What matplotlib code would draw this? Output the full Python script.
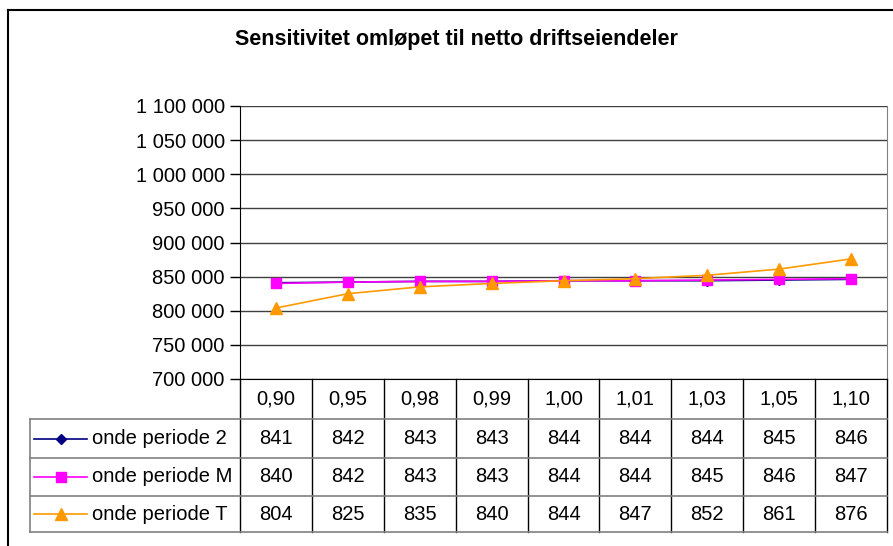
import numpy as np
import matplotlib

matplotlib.use("Agg")
import matplotlib.pyplot as plt
from matplotlib.ticker import FuncFormatter

plt.rcParams["font.family"] = ["Liberation Sans", "DejaVu Sans"]

TITLE = "Sensitivitet omløpet til netto driftseiendeler"
categories = ["0,90", "0,95", "0,98", "0,99", "1,00", "1,01", "1,03", "1,05", "1,10"]
series_names = ["onde periode 2", "onde periode M", "onde periode T"]
periode_2 = [841, 842, 843, 843, 844, 844, 844, 845, 846]
periode_m = [840, 842, 843, 843, 844, 844, 845, 846, 847]
periode_t = [804, 825, 835, 840, 844, 847, 852, 861, 876]
y_ticks = [700000, 750000, 800000, 850000, 900000, 950000, 1000000, 1050000, 1100000]

colors = ["#000080", "#ff00ff", "#ff9900"]
markers = ["D", "s", "^"]
msizes = [5.5, 7.5, 9.0]

W, H = 893, 546
PLOT_L, PLOT_R, PLOT_T, PLOT_B = 240, 887, 106, 379
ROW_Y = [379, 419, 458, 496, 532]
TABLE_L = 30
FS = 14.5

fig = plt.figure(figsize=(W / 100, H / 100), dpi=100)

# pixel overlay for frame and data table
over = fig.add_axes([0, 0, 1, 1])
over.set_xlim(0, W)
over.set_ylim(H, 0)
over.axis("off")

ax = fig.add_axes([PLOT_L / W, 1 - PLOT_B / H, (PLOT_R - PLOT_L) / W, (PLOT_B - PLOT_T) / H])
x = np.arange(len(categories))
values = [periode_2, periode_m, periode_t]
for vals, name, c, m, ms in zip(values, series_names, colors, markers, msizes):
    ax.plot(x, np.array(vals) * 1000, color=c, marker=m, markersize=ms,
            markeredgecolor=c, linewidth=1.2, label=name, clip_on=False, zorder=3)

ax.set_xlim(-0.5, len(categories) - 0.5)
ax.set_ylim(y_ticks[0], y_ticks[-1])
ax.set_yticks(y_ticks)
ax.yaxis.set_major_formatter(FuncFormatter(lambda v, _: f"{int(v):,}".replace(",", " ")))
ax.tick_params(axis="y", length=7, width=1, color="#000000", labelsize=FS, pad=4)
ax.set_xticks([])
ax.grid(axis="y", color="#404040", linewidth=1)
ax.set_axisbelow(True)
ax.spines["top"].set_visible(False)
ax.spines["right"].set_color("#808080")
ax.spines["left"].set_color("#000000")
ax.spines["bottom"].set_color("#000000")
ax.patch.set_alpha(0)

# outer chart frame
over.plot([7.5, 7.5], [H, 9.5], color="#000000", linewidth=1.5)
over.plot([7.5, W], [9.5, 9.5], color="#000000", linewidth=1.5)

over.text(456, 40, TITLE, ha="center", va="center", fontsize=15.5, fontweight="bold")

# data table
col_w = (PLOT_R - PLOT_L) / len(categories)
for i in range(len(categories) + 1):
    xx = PLOT_L + i * col_w
    over.plot([xx, xx], [ROW_Y[0], ROW_Y[-1]], color="#000000", linewidth=1)
for yy in ROW_Y[1:]:
    over.plot([TABLE_L, PLOT_R], [yy, yy], color="#808080", linewidth=1.2)
over.plot([TABLE_L, TABLE_L], [ROW_Y[1], ROW_Y[-1]], color="#808080", linewidth=1.2)

for i, lab in enumerate(categories):
    cx = PLOT_L + (i + 0.5) * col_w
    over.text(cx, (ROW_Y[0] + ROW_Y[1]) / 2, lab, ha="center", va="center", fontsize=FS)

for r, (vals, name, c, m, ms) in enumerate(zip(values, series_names, colors, markers, msizes)):
    cy = (ROW_Y[r + 1] + ROW_Y[r + 2]) / 2
    over.plot([34, 87], [cy, cy], color=c, linewidth=1.2)
    over.plot([60.5], [cy], color=c, marker=m, markersize=ms, markeredgecolor=c)
    over.text(92, cy, name, ha="left", va="center", fontsize=FS)
    for i, v in enumerate(vals):
        cx = PLOT_L + (i + 0.5) * col_w
        over.text(cx, cy, str(v), ha="center", va="center", fontsize=FS)

fig.savefig("out.png", dpi=100)
